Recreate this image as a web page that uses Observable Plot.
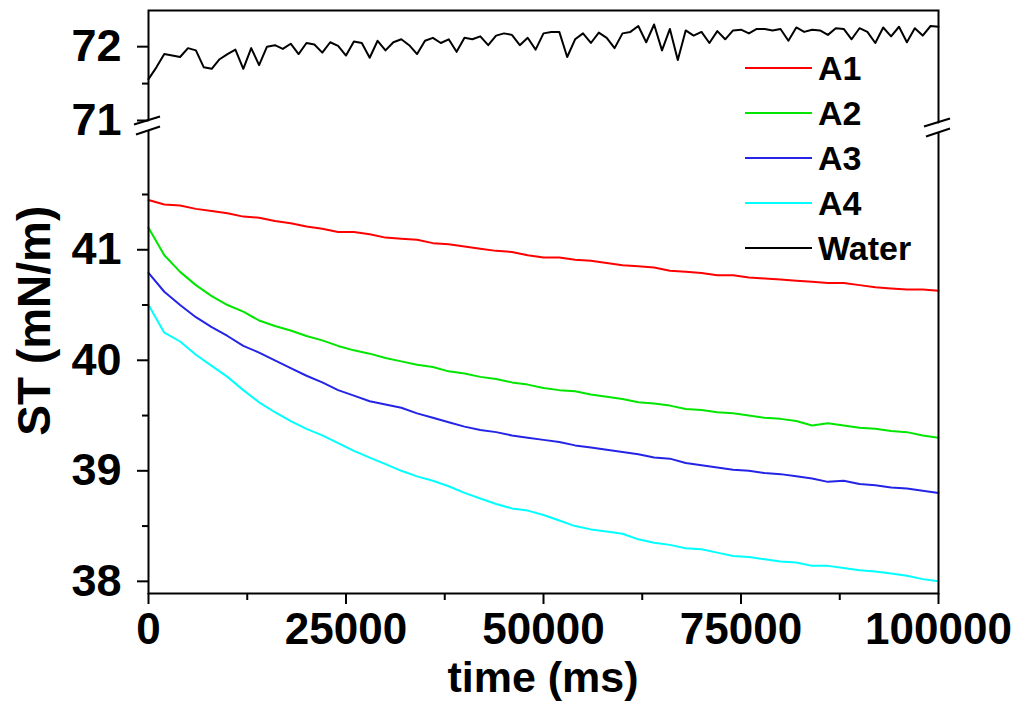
<!DOCTYPE html>
<html>
<head>
<meta charset="utf-8">
<script src="https://cdn.jsdelivr.net/npm/d3@7"></script>
<script src="https://cdn.jsdelivr.net/npm/@observablehq/plot@0.6"></script>
<style>
  html, body { margin: 0; padding: 0; background: #fff; }
  #chart { width: 1022px; height: 702px; }
</style>
</head>
<body>
<div id="chart"></div>
<script>
// ---- data ----
const seriesNames = ["A1", "A2", "A3", "A4", "Water"];
const seriesColors = ["#ff0000", "#00e600", "#2424e6", "#00ffff", "#000000"];

// lower-panel series sampled every 2000 ms (0 .. 100000)
const timeLower = d3.range(0, 100001, 2000);
const a1 = [41.45,41.41,41.40,41.37,41.35,41.33,41.30,41.29,41.26,41.24,41.21,41.19,41.16,41.16,41.14,41.11,41.10,41.09,41.06,41.05,41.03,41.01,40.99,40.98,40.95,40.93,40.93,40.91,40.90,40.88,40.86,40.85,40.84,40.81,40.80,40.79,40.77,40.77,40.75,40.74,40.73,40.72,40.71,40.70,40.70,40.68,40.66,40.65,40.64,40.64,40.63];
const a2 = [41.20,40.95,40.80,40.68,40.58,40.50,40.44,40.36,40.31,40.27,40.22,40.18,40.13,40.09,40.06,40.02,39.99,39.96,39.94,39.90,39.88,39.85,39.83,39.80,39.78,39.75,39.73,39.72,39.69,39.67,39.65,39.62,39.61,39.59,39.56,39.55,39.53,39.52,39.50,39.48,39.47,39.45,39.41,39.43,39.41,39.39,39.38,39.36,39.35,39.32,39.30];
const a3 = [40.79,40.62,40.50,40.39,40.30,40.22,40.13,40.07,40.00,39.93,39.86,39.80,39.73,39.68,39.63,39.60,39.57,39.52,39.48,39.44,39.40,39.37,39.35,39.32,39.30,39.28,39.26,39.23,39.21,39.19,39.17,39.15,39.12,39.11,39.07,39.05,39.03,39.01,39.00,38.98,38.97,38.95,38.93,38.90,38.91,38.88,38.87,38.85,38.84,38.82,38.80];
const a4 = [40.50,40.25,40.17,40.05,39.95,39.85,39.73,39.62,39.53,39.45,39.38,39.32,39.25,39.18,39.12,39.06,39.00,38.95,38.91,38.86,38.80,38.75,38.70,38.66,38.64,38.60,38.55,38.50,38.47,38.45,38.43,38.38,38.35,38.33,38.30,38.29,38.26,38.23,38.22,38.20,38.18,38.17,38.14,38.14,38.12,38.10,38.09,38.07,38.05,38.02,38.00];

// water sampled every 1000 ms
const timeWater = d3.range(0, 100001, 1000);
const water = [71.56,71.72,71.90,71.88,71.86,71.98,71.95,71.72,71.70,71.83,
  71.90,71.96,71.70,71.98,71.75,72.00,72.02,71.97,72.04,71.90,
  72.05,72.03,71.92,72.06,72.01,71.88,72.07,72.05,71.85,72.08,
  71.95,72.06,72.10,72.02,71.90,72.08,72.12,72.05,72.10,71.93,
  72.12,72.10,72.14,72.02,72.15,72.18,72.16,72.02,72.12,71.96,
  72.18,72.20,72.20,71.86,72.10,72.18,72.05,72.19,72.12,71.98,
  72.18,72.20,72.28,72.06,72.30,71.95,72.24,71.82,72.22,72.15,
  72.20,72.05,72.21,72.10,72.22,72.23,72.18,72.24,72.24,72.22,
  72.24,72.08,72.26,72.20,72.23,72.22,72.16,72.25,72.24,72.10,
  72.25,72.20,72.05,72.26,72.14,72.27,72.06,72.25,72.15,72.28,72.27];

const xMajorTicks = [0, 25000, 50000, 75000, 100000];
const xMinorTicks = [12500, 37500, 62500, 87500];
const yMajorTicks = [38, 39, 40, 41, 71, 72];
const yMinorTicks = [38.5, 39.5, 40.5, 41.5, 71.5];

const xLabel = "time (ms)";
const yLabel = "ST (mN/m)";

// ---- build tables ----
const lowerValues = [a1, a2, a3, a4];
const rowsBySeries = lowerValues.map((vals, i) =>
  vals.map((v, j) => ({t: timeLower[j], v, s: seriesNames[i]})));
rowsBySeries.push(water.map((v, j) => ({t: timeWater[j], v, s: "Water"})));

const font = "'Liberation Sans', Arial, sans-serif";

const plot = Plot.plot({
  width: 1022,
  height: 702,
  marginLeft: 148,
  marginRight: 84,
  marginTop: 10,
  marginBottom: 109,
  style: {fontFamily: font, fontWeight: "bold", background: "#fff", color: "#000", overflow: "visible"},
  x: {domain: [0, 100000]},
  // broken axis: lower panel 37.89..42.07, upper panel 71..72.49
  y: {type: "linear", domain: [37.89, 42.07, 71, 72.49], range: [593, 131, 120, 10]},
  marks: [
    ...rowsBySeries.map((rows, i) => Plot.line(rows, {
      x: "t", y: "v", stroke: seriesColors[i], strokeWidth: 2, curve: "linear"
    })),
    Plot.frame({stroke: "#000", strokeWidth: 2}),
    Plot.axisX({ticks: xMajorTicks, tickSize: 11, tickPadding: 8, tickFormat: d => String(d),
      fontSize: 44, label: null, strokeWidth: 2}),
    Plot.axisX({ticks: xMinorTicks, tickSize: 7, tickFormat: () => "", label: null, strokeWidth: 2}),
    Plot.axisY({ticks: yMajorTicks, tickSize: 11, tickPadding: 16, tickFormat: d => String(d),
      fontSize: 45, label: null, strokeWidth: 2}),
    Plot.axisY({ticks: yMinorTicks, tickSize: 6, tickFormat: () => "", label: null, strokeWidth: 2})
  ]
});

document.getElementById("chart").appendChild(plot);

// ---- decorations: axis breaks, axis titles, legend ----
const svg = d3.select(plot);
const xs = plot.scale("x"), ys = plot.scale("y");
const xL = xs.apply(0), xR = xs.apply(100000);
const yTopBreak = ys.apply(71), yBotBreak = ys.apply(42.07);
const yc = (yTopBreak + yBotBreak) / 2;

function drawBreak(x0, dy) {
  const g = svg.append("g");
  const c = yc + dy;
  g.append("polygon")
    .attr("points", `${x0-6},${c-2} ${x0+6},${c-6} ${x0+6},${c+3} ${x0-6},${c+7}`)
    .attr("fill", "#fff");
  g.append("line").attr("x1", x0 - 14).attr("y1", c - 1).attr("x2", x0 + 12).attr("y2", c - 9)
    .attr("stroke", "#000").attr("stroke-width", 2);
  g.append("line").attr("x1", x0 - 12).attr("y1", c + 9).attr("x2", x0 + 12).attr("y2", c + 1)
    .attr("stroke", "#000").attr("stroke-width", 2);
}
drawBreak(xL, 0);
drawBreak(xR, 2);

svg.append("text")
  .attr("transform", `translate(50,${(ys.apply(39) + ys.apply(42.07)) / 2 + 20}) rotate(-90)`)
  .attr("text-anchor", "middle")
  .attr("font-family", font).attr("font-weight", "bold").attr("font-size", 46)
  .text(yLabel);

svg.append("text")
  .attr("x", (xL + xR) / 2).attr("y", 692)
  .attr("text-anchor", "middle")
  .attr("font-family", font).attr("font-weight", "bold").attr("font-size", 43)
  .text(xLabel);

const legend = svg.append("g");
seriesNames.forEach((name, i) => {
  const cy = 68 + i * 45;
  legend.append("line").attr("x1", 745).attr("x2", 812).attr("y1", cy).attr("y2", cy)
    .attr("stroke", seriesColors[i]).attr("stroke-width", 2);
  legend.append("text").attr("x", 818).attr("y", cy).attr("dy", "0.36em")
    .attr("text-anchor", "start")
    .attr("font-family", font).attr("font-weight", "bold").attr("font-size", 34)
    .text(name);
});
</script>
</body>
</html>
